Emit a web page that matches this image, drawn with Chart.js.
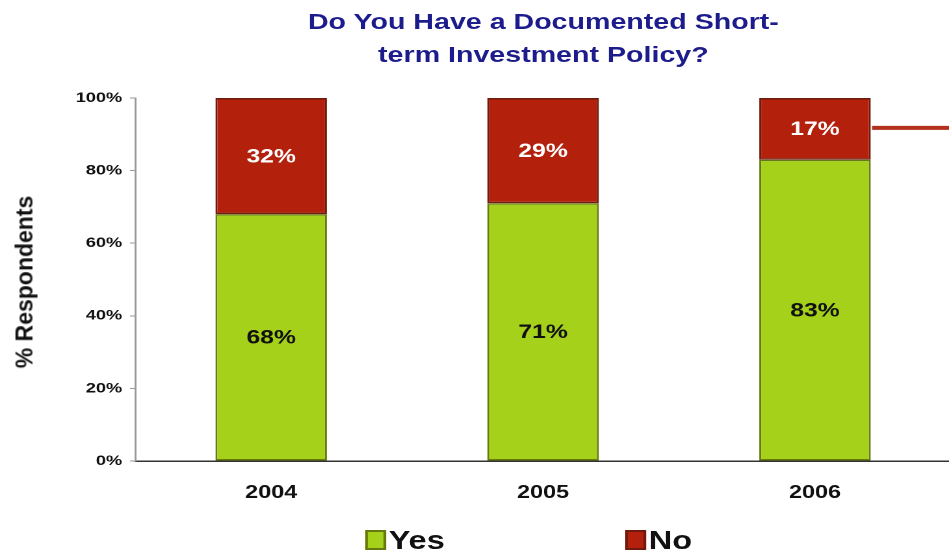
<!DOCTYPE html>
<html>
<head>
<meta charset="utf-8">
<script src="https://cdn.jsdelivr.net/npm/chart.js@4"></script>
<style>
  html, body { margin: 0; padding: 0; background: #fff; overflow: hidden; width: 949px; height: 556px; }
  /* the whole chart is drawn narrow and stretched sideways (wide lettering) */
  #wrap { position: absolute; left: 0; top: 0; width: 740px; height: 556px;
    transform: scaleX(1.3); transform-origin: 0 0; }
  #title { position: absolute; left: 104px; width: 628px; top: 5px; text-align: center;
    font: bold 22px/33px "Liberation Sans", Arial, sans-serif; color: #1c1c8c; }
  #legend { position: absolute; top: 523px; left: 0; width: 730px; height: 32px;
    font: bold 25px "Liberation Sans", Arial, sans-serif; color: #111; }
  .item { position: absolute; top: 0; line-height: 34px; white-space: nowrap; }
  .box { display: inline-block; width: 12px; height: 16px; margin-right: 2px; vertical-align: -1px; }
  #ytitle { position: absolute; left: 25px; top: 282px; transform: translate(-50%, -50%) rotate(-90deg);
    font: bold 23px "Liberation Sans", Arial, sans-serif; color: #111; white-space: nowrap; }
</style>
</head>
<body>
<div id="wrap">
  <canvas id="canvas"></canvas>
  <div id="title">Do You Have a Documented Short-<br>term Investment Policy?</div>
  <div id="legend">
    <span class="item" style="left:281px"><span class="box" style="background:#a6d11a;border:2px solid #667a10"></span>Yes</span>
    <span class="item" style="left:481px"><span class="box" style="background:#b3200c;border:2px solid #6e1a0c"></span>No</span>
  </div>
</div>
<div id="ytitle">% Respondents</div>
<script>
/* Survey data */
const years = ["2004", "2005", "2006"];
const yesValues = [68, 71, 83];
const noValues = [32, 29, 17];
const yTicks = [0, 20, 40, 60, 80, 100];

const fontFamily = '"Liberation Sans", Arial, sans-serif';

/* Percent labels inside each stacked segment + pointer line off the last bar */
const barLabels = {
  id: "barLabels",
  afterDatasetsDraw(chart) {
    const ctx = chart.ctx;
    ctx.save();
    ctx.font = "bold 19px " + fontFamily;
    ctx.textAlign = "center";
    ctx.textBaseline = "middle";
    chart.data.datasets.forEach((ds, i) => {
      const meta = chart.getDatasetMeta(i);
      meta.data.forEach((bar, j) => {
        const midY = (bar.y + bar.base) / 2;
        ctx.fillStyle = ds.labelColor;
        ctx.fillText(ds.data[j] + "%", bar.x, midY + 1);
      });
    });
    // red pointer line from the 2006 "No" segment
    const last = chart.getDatasetMeta(1).data[years.length - 1];
    const lineY = (last.y + last.base) / 2 - 1;
    ctx.strokeStyle = "#b3301c";
    ctx.lineWidth = 4;
    ctx.beginPath();
    ctx.moveTo(last.x + last.width / 2 + 1, lineY);
    ctx.lineTo(chart.chartArea.right, lineY);
    ctx.stroke();
    ctx.restore();
  },
};

const ctx = document.getElementById("canvas").getContext("2d");
window.myChart = new Chart(ctx, {
  type: "bar",
  data: {
    labels: years,
    datasets: [
      {
        label: "Yes",
        data: yesValues,
        backgroundColor: "#a6d11a",
        borderColor: "#667a10",
        borderWidth: 1.5,
        borderSkipped: false,
        labelColor: "#111",
      },
      {
        label: "No",
        data: noValues,
        backgroundColor: "#b3200c",
        borderColor: "#6e1a0c",
        borderWidth: 1.5,
        borderSkipped: false,
        labelColor: "#fff",
      },
    ],
  },
  options: {
    responsive: true,
    maintainAspectRatio: false,
    devicePixelRatio: 2,
    animation: false,
    categoryPercentage: 1,
    barPercentage: 0.41,
    layout: {
      padding: { left: 0, right: 8.5, top: 98, bottom: 45 },
    },
    plugins: {
      legend: { display: false },
      tooltip: { enabled: false },
      title: { display: false },
    },
    scales: {
      x: {
        stacked: true,
        afterFit: (axis) => {
          axis.height = 50;
        },
        grid: { display: false },
        border: { display: true, color: "#333", width: 1.5 },
        ticks: {
          color: "#111",
          padding: 13,
          font: { family: fontFamily, size: 18, weight: "bold" },
        },
      },
      y: {
        stacked: true,
        min: 0,
        max: 100,
        afterFit: (axis) => {
          axis.width = 104;
        },
        afterBuildTicks: (axis) => {
          axis.ticks = yTicks.map((v) => ({ value: v }));
        },
        grid: {
          drawOnChartArea: false,
          drawTicks: true,
          tickLength: 4,
          color: "#999",
        },
        border: { display: true, color: "#999", width: 1.5 },
        ticks: {
          color: "#111",
          padding: 6,
          font: { family: fontFamily, size: 14, weight: "bold" },
          callback: (v) => v + "%",
        },
      },
    },
  },
  plugins: [barLabels],
});
</script>
</body>
</html>
